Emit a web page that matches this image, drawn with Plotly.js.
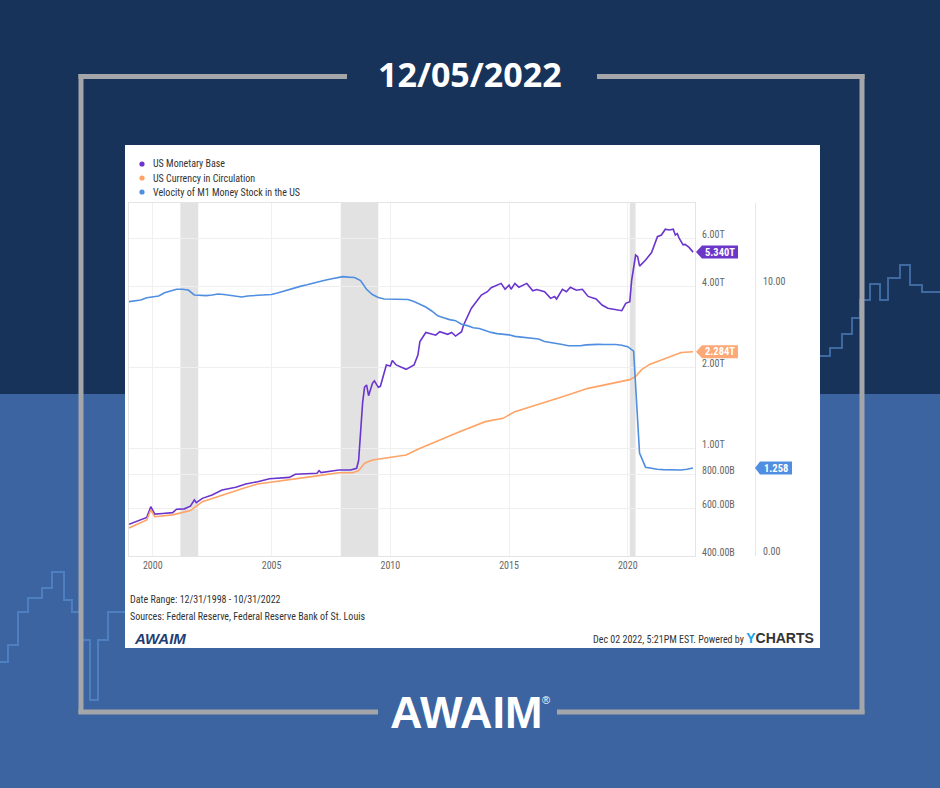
<!DOCTYPE html>
<html><head><meta charset="utf-8">
<script src="https://cdn.plot.ly/plotly-3.0.1.min.js"></script>
<style>html,body{margin:0;padding:0;background:#17335a;} #chart{width:940px;height:788px;}</style>
</head><body><div id="chart"></div>
<script>
// ---------- DATA ----------
const seriesNames = ['US Monetary Base', 'US Currency in Circulation', 'Velocity of M1 Money Stock in the US'];

const baseDates = ['1999-01-01','1999-04-01','1999-07-01','1999-10-01','1999-12-01','2000-02-01','2000-06-01','2000-11-01',
 '2001-01-01','2001-05-01','2001-08-01','2001-10-01','2001-11-01','2002-02-01','2002-07-01','2002-12-01','2003-07-01','2003-12-01',
 '2004-06-01','2004-12-01','2005-10-01','2006-01-01','2006-12-01','2007-01-01','2007-02-01','2007-11-01','2008-05-01','2008-08-01',
 '2008-09-01','2008-10-01','2008-11-01','2008-12-01','2009-01-01','2009-02-01','2009-04-01','2009-05-01','2009-07-01','2009-08-01',
 '2009-10-01','2009-11-01','2010-01-01','2010-02-01','2010-04-01','2010-09-01','2011-01-01','2011-03-01','2011-04-01','2011-07-01',
 '2011-12-01','2012-02-01','2012-06-01','2012-08-01','2012-10-01','2013-01-01','2013-02-01','2013-06-01','2013-11-01','2014-02-01',
 '2014-04-01','2014-09-01','2014-11-01','2015-01-01','2015-02-01','2015-04-01','2015-06-01','2015-10-01','2016-01-01','2016-03-01',
 '2016-07-01','2016-10-01','2016-12-01','2017-01-01','2017-04-01','2017-06-01','2017-08-01','2017-11-01','2018-02-01','2018-05-01',
 '2018-09-01','2018-12-01','2019-03-01','2019-07-01','2019-10-01','2019-12-01','2020-02-01','2020-03-01','2020-05-01','2020-06-01',
 '2020-07-01','2020-10-01','2021-01-01','2021-04-01','2021-06-01','2021-08-01','2021-10-01','2021-12-01','2022-01-01','2022-02-01',
 '2022-03-01','2022-05-01','2022-06-01','2022-08-01','2022-10-01'];
// billions of USD
const baseValues = [524,535,545,556,609,572,575,579,
 596,598,612,645,630,654,673,702,719,739,
 754,773,782,803,810,828,815,833,833,845,
 905,1130,1480,1690,1720,1570,1744,1780,1686,1700,
 1900,2040,2020,2120,2040,1965,2040,2220,2490,2690,
 2630,2710,2650,2690,2610,2710,2870,3310,3700,3810,
 3940,4090,3890,4030,3890,4090,3960,4090,3840,3880,
 3810,3600,3660,3580,3890,3810,3960,3860,3890,3660,
 3580,3400,3310,3280,3240,3450,3500,4210,5210,5140,
 4740,4990,5320,6090,6180,6490,6450,6490,6180,6250,
 6020,5680,5700,5560,5340];

const currencyDates = ['1999-01-01','1999-10-01','1999-12-01','2000-02-01','2000-11-01','2001-08-01','2002-02-01','2003-07-01',
 '2003-12-01','2004-06-01','2005-10-01','2006-12-01','2007-11-01','2008-06-01','2008-09-01','2008-12-01','2009-04-01','2009-09-01',
 '2010-09-01','2011-03-01','2011-08-01','2012-04-01','2012-12-01','2014-01-01','2014-10-01','2015-04-01','2016-06-01','2017-04-01',
 '2018-05-01','2019-03-01','2020-02-01','2020-05-01','2020-08-01','2020-12-01','2021-03-01','2021-10-01','2022-04-01','2022-10-01'];
const currencyValues = [508,544,592,559,568,589,636,700,
 718,739,765,792,814,814,828,882,907,920,
 947,994,1031,1092,1155,1258,1294,1370,1471,1556,
 1671,1734,1800,1850,1960,2050,2090,2190,2270,2284];

const velocityDates = ['1998-12-31','1999-03-31','1999-06-30','1999-09-30','1999-12-31','2000-03-31','2000-06-30','2000-09-30','2000-12-31',
 '2001-03-31','2001-06-30','2001-09-30','2001-12-31','2002-03-31','2002-06-30','2002-09-30','2002-12-31','2003-03-31','2003-06-30',
 '2003-09-30','2003-12-31','2004-03-31','2004-06-30','2004-09-30','2004-12-31','2005-03-31','2005-06-30','2005-09-30','2005-12-31',
 '2006-03-31','2006-06-30','2006-09-30','2006-12-31','2007-03-31','2007-06-30','2007-09-30','2007-12-31','2008-03-31','2008-06-30',
 '2008-09-30','2008-12-31','2009-03-31','2009-06-30','2009-09-30','2009-12-31','2010-03-31','2010-06-30','2010-09-30','2010-12-31',
 '2011-03-31','2011-06-30','2011-09-30','2011-12-31','2012-03-31','2012-06-30','2012-09-30','2012-12-31','2013-03-31','2013-06-30',
 '2013-09-30','2013-12-31','2014-03-31','2014-06-30','2014-09-30','2014-12-31','2015-03-31','2015-06-30','2015-09-30','2015-12-31',
 '2016-03-31','2016-06-30','2016-09-30','2016-12-31','2017-03-31','2017-06-30','2017-09-30','2017-12-31','2018-03-31','2018-06-30',
 '2018-09-30','2018-12-31','2019-03-31','2019-06-30','2019-09-30','2019-12-31','2020-03-31','2020-06-30','2020-09-30','2020-12-31',
 '2021-03-31','2021-06-30','2021-09-30','2021-12-31','2022-03-31','2022-06-30','2022-09-30'];
const velocityValues = [8.34,8.45,8.50,8.72,8.80,8.90,9.23,9.40,9.60,
 9.60,9.52,9.00,8.95,8.93,9.00,9.10,9.05,8.96,8.82,
 8.79,8.90,8.93,8.95,8.98,9.05,9.20,9.40,9.60,9.75,
 9.95,10.10,10.30,10.50,10.65,10.80,10.95,11.08,11.02,10.98,
 10.60,9.60,9.05,8.75,8.60,8.57,8.57,8.58,8.55,8.35,
 8.10,7.85,7.50,7.10,6.95,6.80,6.72,6.45,6.35,6.20,
 6.15,6.00,5.88,5.80,5.78,5.72,5.62,5.58,5.55,5.52,
 5.45,5.30,5.25,5.20,5.12,5.05,5.03,5.05,5.10,5.13,
 5.13,5.12,5.13,5.12,5.08,5.00,4.75,1.49,1.27,1.25,
 1.24,1.235,1.23,1.228,1.23,1.24,1.258];

const recessionStarts = ['2001-03-01','2007-12-01','2020-02-01'];
const recessionEnds   = ['2001-11-30','2009-06-30','2020-04-30'];

const leftTickVals = [400,600,800,1000,2000,4000,6000];
const leftTickText = ['400.00B','600.00B','800.00B','1.00T','2.00T','4.00T','6.00T'];
const velTickVals = [0.463, 10];
const velTickText = ['0.00','10.00'];

// ---------- STYLE / GEOMETRY ----------
const colors = ['#6a34cf', '#ffa366', '#4f8ee0'];
const tagColors = ['#6c36c9', '#fda877', '#4f8ee0'];
const W = 940, H = 788, L = 129, R = 755, T = 203, B = 556;
const PW = R - L, PH = B - T;
const xDomEnd = (695 - L) / PW;
const px2x = px => (px - L) / PW;
const py2y = py => (B - py) / PH;
const FONT = 'Roboto Condensed, Liberation Sans Narrow, Roboto, sans-serif';

const fmtT = v => v >= 1000 ? (v / 1000).toFixed(3) + 'T' : v.toFixed(2) + 'B';
const lastBase = baseValues[baseValues.length - 1];
const lastCur = currencyValues[currencyValues.length - 1];
const lastVel = velocityValues[velocityValues.length - 1];

const traces = [
  {x: baseDates, y: baseValues, type: 'scatter', mode: 'lines', name: seriesNames[0], yaxis: 'y',
   line: {color: colors[0], width: 1.6}, showlegend: false, hoverinfo: 'x+y'},
  {x: currencyDates, y: currencyValues, type: 'scatter', mode: 'lines', name: seriesNames[1], yaxis: 'y',
   line: {color: colors[1], width: 1.6}, showlegend: false, hoverinfo: 'x+y'},
  {x: velocityDates, y: velocityValues, type: 'scatter', mode: 'lines', name: seriesNames[2], yaxis: 'y2',
   line: {color: colors[2], width: 1.6}, showlegend: false, hoverinfo: 'x+y'}
];

const shapes = [];
// lighter lower background
shapes.push({type: 'rect', xref: 'paper', yref: 'paper', x0: px2x(0), x1: px2x(W), y0: py2y(H), y1: py2y(394),
  fillcolor: '#3b64a0', line: {width: 0}, layer: 'below'});
// decorative background ticker lines
const deco = (pts) => shapes.push({type: 'path', xref: 'paper', yref: 'paper', layer: 'below',
  path: pts.map((p, i) => (i ? 'L' : 'M') + px2x(p[0]).toFixed(4) + ',' + py2y(p[1]).toFixed(4)).join(' '),
  line: {color: 'rgba(95,150,220,0.55)', width: 2}});
deco([[0,662],[8,662],[8,645],[18,645],[18,612],[28,612],[28,598],[42,598],[42,588],[52,588],[52,572],[64,572],[64,600],[72,600],[72,612],[80,612],[80,640],[90,640],[90,700],[98,700],[98,640],[108,640],[108,612],[125,612]]);
deco([[820,356],[830,356],[830,348],[842,348],[842,334],[852,334],[852,318],[860,318],[860,300],[870,300],[870,284],[880,284],[880,300],[888,300],[888,278],[900,278],[900,265],[910,265],[910,285],[922,285],[922,292],[940,292]]);
// frame
const frameColor = '#a4a6aa';
const fl = (x0, y0, x1, y1) => shapes.push({type: 'line', xref: 'paper', yref: 'paper', x0: px2x(x0), x1: px2x(x1),
  y0: py2y(y0), y1: py2y(y1), line: {color: frameColor, width: 5}, layer: 'below'});
fl(81, 74, 81, 714); fl(862, 74, 862, 714);
fl(78.5, 76.5, 347, 76.5); fl(597, 76.5, 864.5, 76.5);
fl(78.5, 712, 378, 712); fl(557, 712, 864.5, 712);
// white panel
shapes.push({type: 'rect', xref: 'paper', yref: 'paper', x0: px2x(125), x1: px2x(820), y0: py2y(648), y1: py2y(145),
  fillcolor: '#ffffff', line: {width: 0}, layer: 'below'});
// recessions
recessionStarts.forEach((s, i) => shapes.push({type: 'rect', xref: 'x', yref: 'paper', x0: s, x1: recessionEnds[i],
  y0: 0, y1: 1, fillcolor: '#e2e2e2', line: {width: 0}, layer: 'below'}));
// legend dots
[164, 178, 192].forEach((py, i) => shapes.push({type: 'circle', xref: 'paper', yref: 'paper', xsizemode: 'pixel', ysizemode: 'pixel',
  xanchor: px2x(142), yanchor: py2y(py), x0: -2.6, x1: 2.6, y0: -2.6, y1: 2.6, fillcolor: colors[i], line: {width: 0}}));
// value tags (anchored at the last data value on each axis)
const tagPath = w => `M1,0 L7,6.5 L${w},6.5 L${w},-6.5 L7,-6.5 Z`;
shapes.push({type: 'path', xref: 'paper', yref: 'y', xsizemode: 'pixel', ysizemode: 'pixel', xanchor: xDomEnd,
  yanchor: lastBase, path: tagPath(43), fillcolor: tagColors[0], line: {width: 0}, layer: 'above'});
shapes.push({type: 'path', xref: 'paper', yref: 'y', xsizemode: 'pixel', ysizemode: 'pixel', xanchor: xDomEnd,
  yanchor: lastCur, path: tagPath(43), fillcolor: tagColors[1], line: {width: 0}, layer: 'above'});
shapes.push({type: 'path', xref: 'paper', yref: 'y2', xsizemode: 'pixel', ysizemode: 'pixel', xanchor: 1,
  yanchor: lastVel, path: 'M0,0 L5,6.5 L37,6.5 L37,-6.5 L5,-6.5 Z', fillcolor: tagColors[2], line: {width: 0}, layer: 'above'});

const annotations = [];
const ann = (o) => annotations.push(Object.assign({xref: 'paper', yref: 'paper', showarrow: false}, o));
ann({x: px2x(470), y: py2y(74), text: '<b>12/05/2022</b>', xanchor: 'center', yanchor: 'middle',
  font: {family: 'Open Sans, sans-serif', size: 34, color: '#ffffff'}});
seriesNames.forEach((n, i) => ann({x: px2x(151), y: py2y([164, 178, 192][i]), text: n, xanchor: 'left', yanchor: 'middle',
  font: {family: FONT, size: 10, color: '#333333'}}));
ann({x: px2x(128), y: py2y(599), text: 'Date Range: 12/31/1998 - 10/31/2022', xanchor: 'left', yanchor: 'middle',
  font: {family: FONT, size: 10, color: '#333333'}});
ann({x: px2x(128), y: py2y(616), text: 'Sources: Federal Reserve, Federal Reserve Bank of St. Louis', xanchor: 'left', yanchor: 'middle',
  font: {family: FONT, size: 10, color: '#333333'}});
ann({x: px2x(132), y: py2y(638), text: '<b><i>AWAIM</i></b>', xanchor: 'left', yanchor: 'middle',
  font: {family: 'Liberation Sans, Arial, sans-serif', size: 15, color: '#1f3d72'}});
ann({x: px2x(816), y: py2y(638), xanchor: 'right', yanchor: 'middle',
  text: 'Dec 02 2022, 5:21PM EST. Powered by <span style="font-size:14px;font-weight:bold;font-family:Liberation Sans, Arial, sans-serif"><span style="color:#1fa3e8">Y</span>CHARTS</span>',
  font: {family: FONT, size: 10, color: '#333333'}});
ann({x: px2x(466), y: py2y(712), text: '<b>AWAIM</b>', xanchor: 'center', yanchor: 'middle',
  font: {family: 'Liberation Sans, Arial, sans-serif', size: 45, color: '#ffffff'}});
ann({x: px2x(546), y: py2y(700), text: '®', xanchor: 'center', yanchor: 'middle',
  font: {family: 'Liberation Sans, Arial, sans-serif', size: 11, color: '#ffffff'}});
// value tag texts
ann({x: xDomEnd, xshift: 25, yref: 'y', y: Math.log10(lastBase), text: '<b>' + fmtT(lastBase) + '</b>', xanchor: 'center', yanchor: 'middle',
  font: {family: FONT, size: 10.5, color: '#ffffff'}});
ann({x: xDomEnd, xshift: 25, yref: 'y', y: Math.log10(lastCur), text: '<b>' + fmtT(lastCur) + '</b>', xanchor: 'center', yanchor: 'middle',
  font: {family: FONT, size: 10.5, color: '#ffffff'}});
ann({x: 1, xshift: 21, yref: 'y2', y: Math.log10(lastVel), text: '<b>' + lastVel.toFixed(3) + '</b>', xanchor: 'center', yanchor: 'middle',
  font: {family: FONT, size: 10.5, color: '#ffffff'}});

const tickFont = {family: FONT, size: 10, color: '#666666'};
const layout = {
  width: W, height: H,
  margin: {l: L, r: W - R, t: T, b: H - B, pad: 0},
  paper_bgcolor: '#17335a', plot_bgcolor: 'rgba(0,0,0,0)',
  showlegend: false,
  xaxis: {domain: [0, xDomEnd], type: 'date', range: ['1998-12-31', '2022-10-31'], tick0: '2000-01-01', dtick: 'M60',
    tickformat: '%Y', showgrid: true, gridcolor: '#f0f0f0', gridwidth: 1, showline: true, linecolor: '#e4e4e4', linewidth: 1,
    mirror: true, ticks: '', tickfont: tickFont, zeroline: false, fixedrange: true},
  yaxis: {type: 'log', range: [Math.log10(400), Math.log10(400) + PH / 270], tickvals: leftTickVals, ticktext: leftTickText,
    side: 'right', showgrid: true, gridcolor: '#efefef', showline: true, linecolor: '#e4e4e4', mirror: true, ticks: '',
    tickfont: tickFont, ticklabelstandoff: 4, ticklabelshift: -4, zeroline: false, fixedrange: true},
  yaxis2: {type: 'log', overlaying: 'y', side: 'right', anchor: 'free', position: 1,
    range: [1 - (B - 285.7) / 202.5, 1 + (285.7 - T) / 202.5], tickvals: velTickVals, ticktext: velTickText,
    showgrid: false, showline: true, linecolor: '#e8e8e8', ticks: '', tickfont: tickFont,
    ticklabelstandoff: 5, ticklabelshift: -4, zeroline: false, fixedrange: true},
  shapes: shapes,
  annotations: annotations
};
Plotly.newPlot('chart', traces, layout, {displayModeBar: false, staticPlot: true});
</script></body></html>
